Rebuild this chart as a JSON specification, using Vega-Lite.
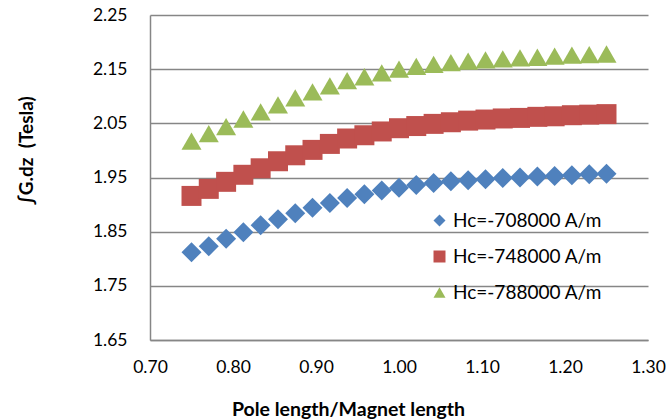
{
  "$schema": "https://vega.github.io/schema/vega-lite/v6.json",
  "width": 498,
  "height": 325,
  "autosize": {"type": "none"},
  "padding": {"left": 150, "top": 15, "right": 20, "bottom": 80},
  "background": "white",
  "config": {
    "view": {"stroke": null},
    "font": "Lato"
  },
  "datasets": {
    "pts": [
      {"x": 0.75, "y": 1.812, "s": "Hc=-708000 A/m"},
      {"x": 0.7708, "y": 1.823, "s": "Hc=-708000 A/m"},
      {"x": 0.7917, "y": 1.837, "s": "Hc=-708000 A/m"},
      {"x": 0.8125, "y": 1.849, "s": "Hc=-708000 A/m"},
      {"x": 0.8333, "y": 1.862, "s": "Hc=-708000 A/m"},
      {"x": 0.8542, "y": 1.873, "s": "Hc=-708000 A/m"},
      {"x": 0.875, "y": 1.884, "s": "Hc=-708000 A/m"},
      {"x": 0.8958, "y": 1.894, "s": "Hc=-708000 A/m"},
      {"x": 0.9167, "y": 1.903, "s": "Hc=-708000 A/m"},
      {"x": 0.9375, "y": 1.912, "s": "Hc=-708000 A/m"},
      {"x": 0.9583, "y": 1.919, "s": "Hc=-708000 A/m"},
      {"x": 0.9792, "y": 1.926, "s": "Hc=-708000 A/m"},
      {"x": 1.0, "y": 1.931, "s": "Hc=-708000 A/m"},
      {"x": 1.0208, "y": 1.936, "s": "Hc=-708000 A/m"},
      {"x": 1.0417, "y": 1.940, "s": "Hc=-708000 A/m"},
      {"x": 1.0625, "y": 1.943, "s": "Hc=-708000 A/m"},
      {"x": 1.0833, "y": 1.945, "s": "Hc=-708000 A/m"},
      {"x": 1.1042, "y": 1.947, "s": "Hc=-708000 A/m"},
      {"x": 1.125, "y": 1.949, "s": "Hc=-708000 A/m"},
      {"x": 1.1458, "y": 1.950, "s": "Hc=-708000 A/m"},
      {"x": 1.1667, "y": 1.952, "s": "Hc=-708000 A/m"},
      {"x": 1.1875, "y": 1.953, "s": "Hc=-708000 A/m"},
      {"x": 1.2083, "y": 1.954, "s": "Hc=-708000 A/m"},
      {"x": 1.2292, "y": 1.956, "s": "Hc=-708000 A/m"},
      {"x": 1.25, "y": 1.957, "s": "Hc=-708000 A/m"},
      {"x": 0.75, "y": 1.916, "s": "Hc=-748000 A/m"},
      {"x": 0.7708, "y": 1.929, "s": "Hc=-748000 A/m"},
      {"x": 0.7917, "y": 1.942, "s": "Hc=-748000 A/m"},
      {"x": 0.8125, "y": 1.955, "s": "Hc=-748000 A/m"},
      {"x": 0.8333, "y": 1.967, "s": "Hc=-748000 A/m"},
      {"x": 0.8542, "y": 1.980, "s": "Hc=-748000 A/m"},
      {"x": 0.875, "y": 1.991, "s": "Hc=-748000 A/m"},
      {"x": 0.8958, "y": 2.001, "s": "Hc=-748000 A/m"},
      {"x": 0.9167, "y": 2.012, "s": "Hc=-748000 A/m"},
      {"x": 0.9375, "y": 2.022, "s": "Hc=-748000 A/m"},
      {"x": 0.9583, "y": 2.028, "s": "Hc=-748000 A/m"},
      {"x": 0.9792, "y": 2.035, "s": "Hc=-748000 A/m"},
      {"x": 1.0, "y": 2.041, "s": "Hc=-748000 A/m"},
      {"x": 1.0208, "y": 2.045, "s": "Hc=-748000 A/m"},
      {"x": 1.0417, "y": 2.049, "s": "Hc=-748000 A/m"},
      {"x": 1.0625, "y": 2.052, "s": "Hc=-748000 A/m"},
      {"x": 1.0833, "y": 2.055, "s": "Hc=-748000 A/m"},
      {"x": 1.1042, "y": 2.057, "s": "Hc=-748000 A/m"},
      {"x": 1.125, "y": 2.059, "s": "Hc=-748000 A/m"},
      {"x": 1.1458, "y": 2.060, "s": "Hc=-748000 A/m"},
      {"x": 1.1667, "y": 2.062, "s": "Hc=-748000 A/m"},
      {"x": 1.1875, "y": 2.063, "s": "Hc=-748000 A/m"},
      {"x": 1.2083, "y": 2.065, "s": "Hc=-748000 A/m"},
      {"x": 1.2292, "y": 2.066, "s": "Hc=-748000 A/m"},
      {"x": 1.25, "y": 2.067, "s": "Hc=-748000 A/m"},
      {"x": 0.75, "y": 2.017, "s": "Hc=-788000 A/m"},
      {"x": 0.7708, "y": 2.031, "s": "Hc=-788000 A/m"},
      {"x": 0.7917, "y": 2.044, "s": "Hc=-788000 A/m"},
      {"x": 0.8125, "y": 2.058, "s": "Hc=-788000 A/m"},
      {"x": 0.8333, "y": 2.071, "s": "Hc=-788000 A/m"},
      {"x": 0.8542, "y": 2.084, "s": "Hc=-788000 A/m"},
      {"x": 0.875, "y": 2.097, "s": "Hc=-788000 A/m"},
      {"x": 0.8958, "y": 2.108, "s": "Hc=-788000 A/m"},
      {"x": 0.9167, "y": 2.119, "s": "Hc=-788000 A/m"},
      {"x": 0.9375, "y": 2.129, "s": "Hc=-788000 A/m"},
      {"x": 0.9583, "y": 2.136, "s": "Hc=-788000 A/m"},
      {"x": 0.9792, "y": 2.143, "s": "Hc=-788000 A/m"},
      {"x": 1.0, "y": 2.150, "s": "Hc=-788000 A/m"},
      {"x": 1.0208, "y": 2.155, "s": "Hc=-788000 A/m"},
      {"x": 1.0417, "y": 2.159, "s": "Hc=-788000 A/m"},
      {"x": 1.0625, "y": 2.162, "s": "Hc=-788000 A/m"},
      {"x": 1.0833, "y": 2.165, "s": "Hc=-788000 A/m"},
      {"x": 1.1042, "y": 2.167, "s": "Hc=-788000 A/m"},
      {"x": 1.125, "y": 2.169, "s": "Hc=-788000 A/m"},
      {"x": 1.1458, "y": 2.171, "s": "Hc=-788000 A/m"},
      {"x": 1.1667, "y": 2.172, "s": "Hc=-788000 A/m"},
      {"x": 1.1875, "y": 2.174, "s": "Hc=-788000 A/m"},
      {"x": 1.2083, "y": 2.176, "s": "Hc=-788000 A/m"},
      {"x": 1.2292, "y": 2.177, "s": "Hc=-788000 A/m"},
      {"x": 1.25, "y": 2.178, "s": "Hc=-788000 A/m"}
    ]
  },
  "data": {"name": "pts"},
  "mark": {"type": "point", "filled": true, "opacity": 1, "size": 400, "strokeWidth": 0},
  "encoding": {
    "x": {
      "field": "x", "type": "quantitative",
      "scale": {"domain": [0.7, 1.3], "nice": false, "zero": false},
      "axis": {
        "values": [0.7, 0.8, 0.9, 1.0, 1.1, 1.2, 1.3],
        "format": ".2f",
        "grid": false,
        "ticks": false,
        "domainColor": "#868686",
        "domainWidth": 1.5,
        "labelFont": "Lato",
        "labelFontSize": 17.5,
        "labelColor": "#000000",
        "labelPadding": 18,
        "labelFlush": false,
        "title": "Pole length/Magnet length",
        "titleFont": "Lato",
        "titleFontSize": 19.5,
        "titleFontWeight": "bold",
        "titleColor": "#000000",
        "titleX": 198,
        "titleY": 75,
        "titleBaseline": "alphabetic",
        "titleAlign": "center"
      }
    },
    "y": {
      "field": "y", "type": "quantitative",
      "scale": {"domain": [1.65, 2.25], "nice": false, "zero": false},
      "axis": {
        "values": [1.65, 1.75, 1.85, 1.95, 2.05, 2.15, 2.25],
        "format": ".2f",
        "grid": true,
        "gridColor": "#868686",
        "gridWidth": 1.5,
        "ticks": false,
        "domainColor": "#868686",
        "domainWidth": 1.5,
        "labelFont": "Lato",
        "labelFontSize": 17.5,
        "labelColor": "#000000",
        "labelPadding": 23,
        "labelFlush": false,
        "title": "∫G.dz\u00a0\u00a0(Tesla)",
        "titleFont": "Lato",
        "titleFontSize": 19,
        "titleFontWeight": "bold",
        "titleColor": "#000000",
        "titleX": -124,
        "titleY": 135,
        "titleBaseline": "middle",
        "titleAlign": "center",
        "titleAngle": -90
      }
    },
    "color": {
      "field": "s", "type": "nominal",
      "scale": {"domain": ["Hc=-708000 A/m", "Hc=-748000 A/m", "Hc=-788000 A/m"], "range": ["#4F81BD", "#C0504D", "#9BBB59"]},
      "legend": {
        "title": null,
        "orient": "none",
        "legendX": 280,
        "legendY": 196,
        "padding": 0,
        "symbolSize": 144,
        "symbolStrokeWidth": 0,
        "labelFont": "Lato",
        "labelFontSize": 19,
        "labelColor": "#000000",
        "labelOffset": 4,
        "rowPadding": 16
      }
    },
    "shape": {
      "field": "s", "type": "nominal",
      "scale": {"domain": ["Hc=-708000 A/m", "Hc=-748000 A/m", "Hc=-788000 A/m"], "range": ["diamond", "square", "triangle-up"]},
      "legend": null
    }
  }
}
